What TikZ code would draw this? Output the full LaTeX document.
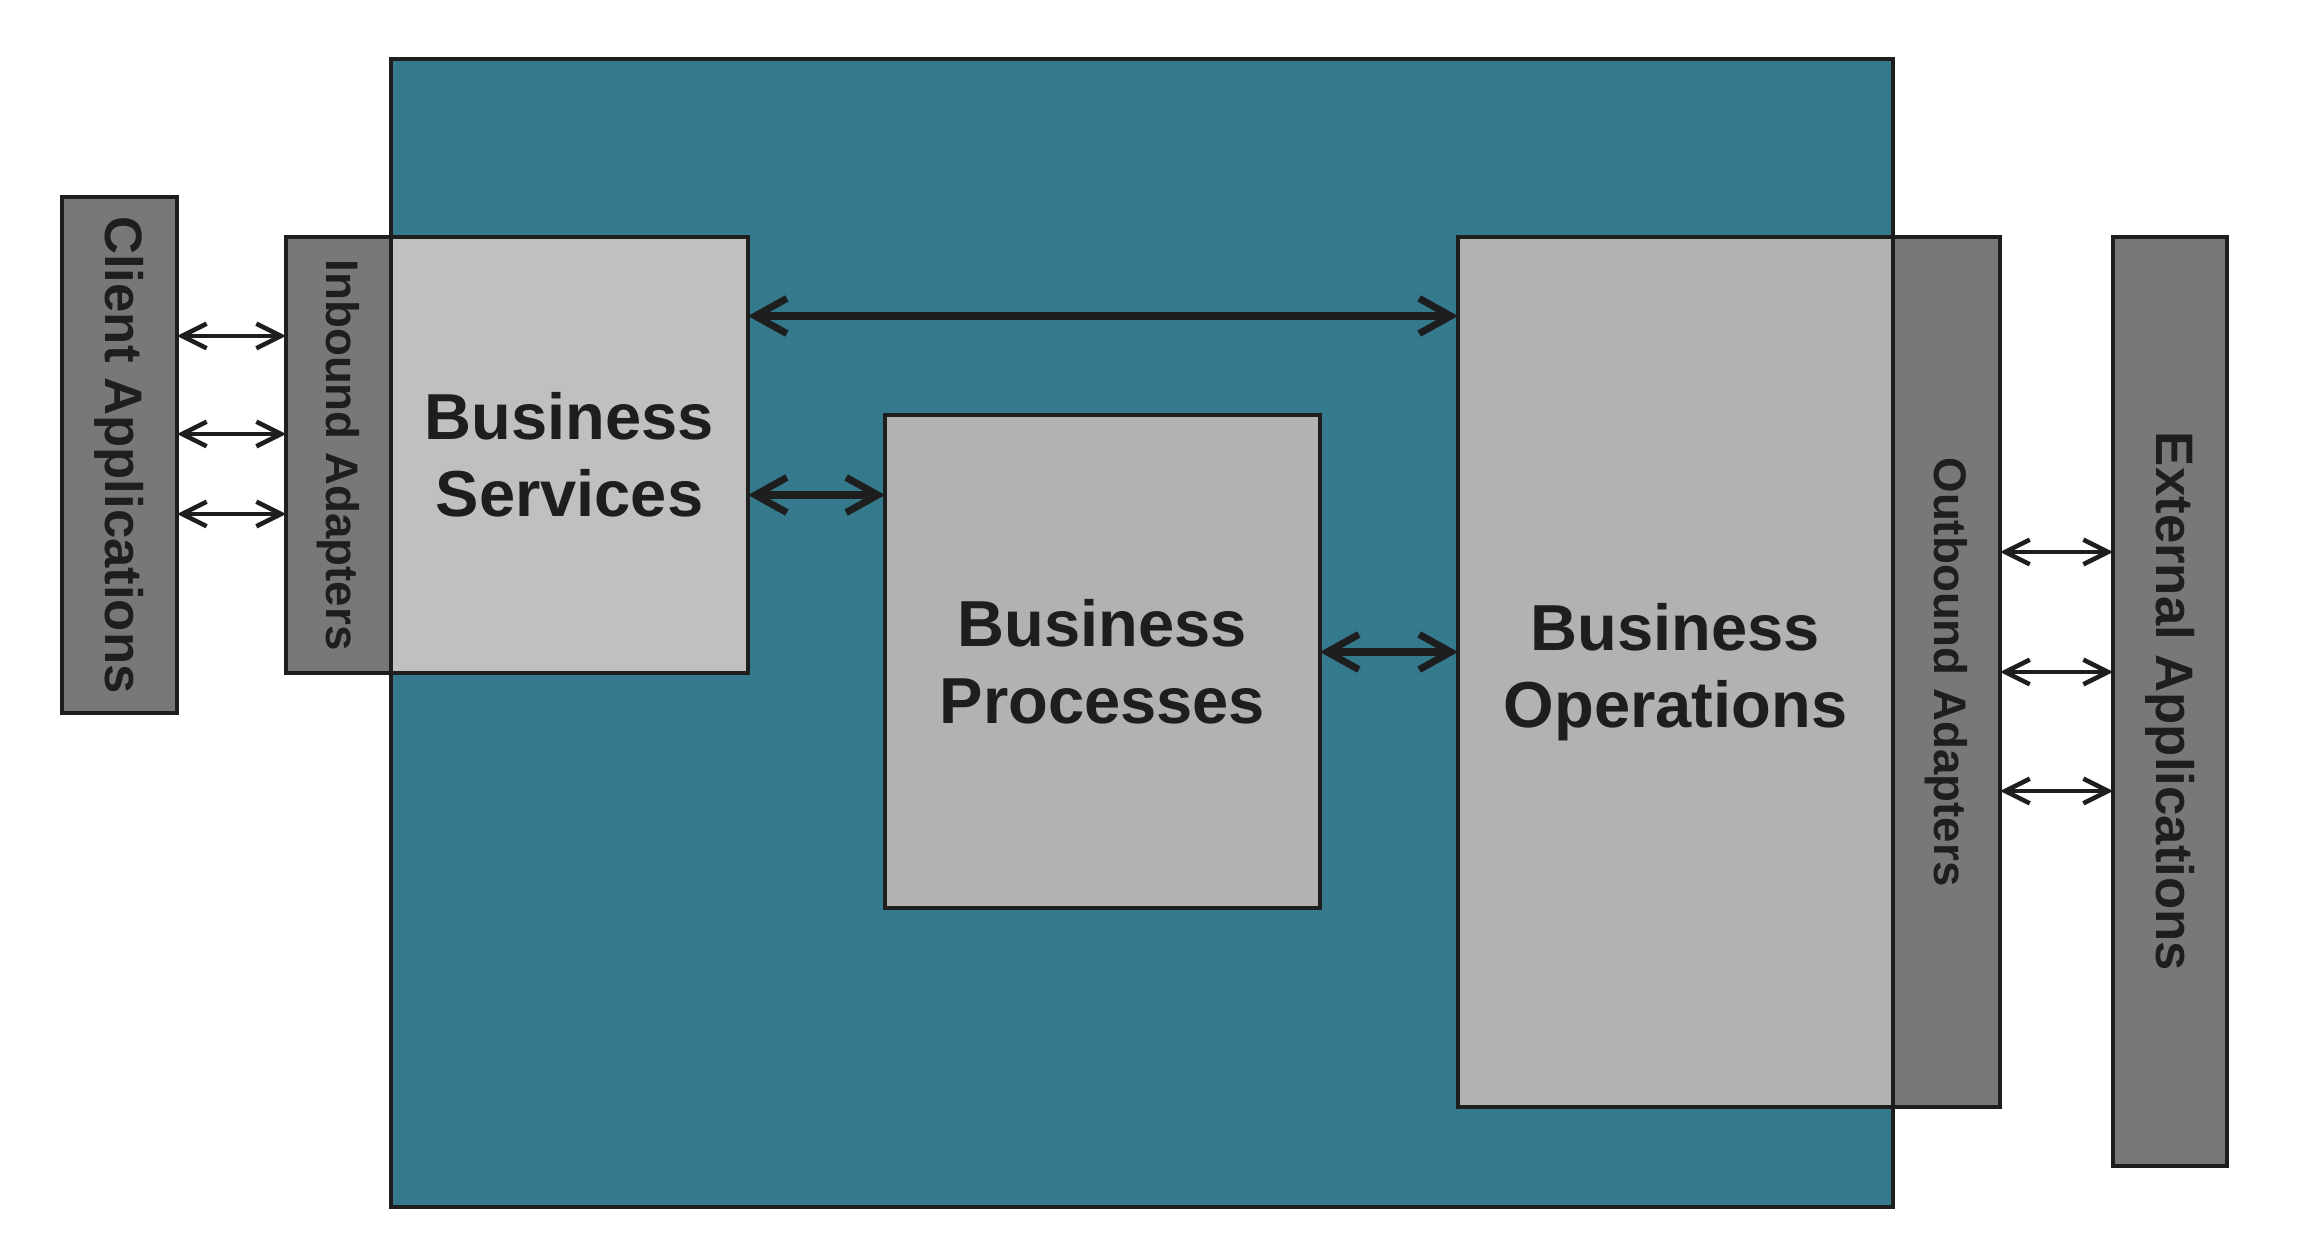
\documentclass[tikz,border=0pt]{standalone}
\usepackage{fontspec}
\setmainfont{Liberation Sans}
\usetikzlibrary{arrows.meta}
\definecolor{frameteal}{HTML}{347A8C}
\definecolor{adaptergray}{HTML}{787878}
\definecolor{servicegray}{HTML}{C0C0C0}
\definecolor{opsgray}{HTML}{B2B2B2}
\definecolor{inkgray}{HTML}{1E1E1E}

\begin{document}
\begin{tikzpicture}[
    box/.style={draw=inkgray,line width=0.9pt,inner sep=0pt,outer sep=0pt,anchor=north west,text=inkgray,align=center},
    side/.style={box,fill=adaptergray,font=\fontsize{13}{15}\selectfont\bfseries},
    app/.style={box,fill=adaptergray,font=\fontsize{15}{17}\selectfont\bfseries},
    core/.style={box,font=\fontsize{18.5}{22}\selectfont\bfseries},
    bigarrow/.style={<->,>={Straight Barb[length=9pt,width=10pt]},line width=2pt,line cap=round,draw=inkgray},
    smallarrow/.style={<->,>={Straight Barb[length=7pt,width=7pt]},line width=1.3pt,line cap=round,draw=inkgray}]
		\useasboundingbox (0,0) rectangle (23.24,12.52);
		\draw[draw=inkgray,line width=0.9pt,fill=frameteal] (3.91,0.45) rectangle (18.93,11.93);

		\node[app,minimum width=1.15cm,minimum height=5.16cm] (CA) at (0.62,10.55) {\rotatebox{-90}{Client Applications}};
		\node[side,minimum width=1.05cm,minimum height=4.36cm] (IA) at (2.86,10.15) {\rotatebox{-90}{Inbound Adapters}};
		\node[core,fill=servicegray,minimum width=3.57cm,minimum height=4.36cm] (BS) at (3.91,10.15) {Business\\Services};
		\node[core,fill=opsgray,minimum width=4.35cm,minimum height=4.93cm] (BP) at (8.85,8.37) {Business\\Processes};
		\node[core,fill=opsgray,minimum width=4.35cm,minimum height=8.70cm] (BO) at (14.58,10.15) {Business\\Operations};
		\node[side,minimum width=1.07cm,minimum height=8.70cm] (OA) at (18.93,10.15) {\rotatebox{-90}{Outbound Adapters}};
		\node[app,minimum width=1.14cm,minimum height=9.29cm] (EA) at (21.13,10.15) {\rotatebox{-90}{External Applications}};

		\foreach \y in {9.16,8.18,7.38}
			\draw[smallarrow] (CA.east|-0,\y) -- (IA.west|-0,\y);
		\foreach \y in {7.00,5.80,4.61}
			\draw[smallarrow] (OA.east|-0,\y) -- (EA.west|-0,\y);

		\draw[bigarrow] (BS.east|-0,9.36) -- (BO.west|-0,9.36);
		\draw[bigarrow] (BS.east|-0,7.57) -- (BP.west|-0,7.57);
		\draw[bigarrow] (BP.east|-0,6.00) -- (BO.west|-0,6.00);
	\end{tikzpicture}
\end{document}
